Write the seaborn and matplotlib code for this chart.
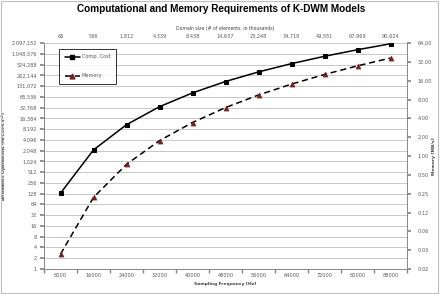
import numpy as np
import pandas as pd
import matplotlib
matplotlib.use("Agg")
import matplotlib.pyplot as plt
import seaborn as sns
from matplotlib.lines import Line2D
from matplotlib.patches import Rectangle

# ---- data ----
sampling_freq = ["8000", "16000", "24000", "32000", "40000", "48000",
                 "56000", "64000", "72000", "80000", "88000"]
domain_size = ["66", "536", "1,812", "4,339", "8,438", "14,637",
               "23,248", "34,718", "49,551", "67,969", "90,624"]
comp_cost = [132, 2144, 10870, 34710, 84380, 175640,
             325470, 555490, 891920, 1359380, 1993730]
memory = [0.027, 0.218, 0.736, 1.76, 3.43, 5.94,
          9.44, 14.1, 20.1, 27.6, 36.8]
left_ticks = [2 ** k for k in range(0, 22)]
right_ticks = [2.0 ** k for k in range(-6, 7)]

df = pd.DataFrame({"idx": np.arange(len(sampling_freq)),
                   "comp": comp_cost, "mem": memory})

sns.set_theme(style="white")
plt.rcParams["font.family"] = ["DejaVu Sans"]

fig = plt.figure(figsize=(4.42, 2.94), dpi=100)
ax = fig.add_axes([44 / 442, 1 - 269 / 294, 363 / 442, 226 / 294])
ax2 = ax.twinx()

tick_col = "#595959"
axis_col = "#868686"
mem_col = "#7a1f1f"
tfs = 3.6
lfs = 3.2

sns.lineplot(data=df, x="idx", y="comp", ax=ax, color="black", lw=1.1,
             marker="s", markersize=3.2, markeredgecolor="black", legend=False)
sns.lineplot(data=df, x="idx", y="mem", ax=ax2, color="black", lw=1.1,
             legend=False)
ax2.lines[0].set_dashes([4, 2.5])
sns.scatterplot(data=df, x="idx", y="mem", ax=ax2, marker="^", s=14,
                color=mem_col, edgecolor=mem_col, linewidth=0.3, legend=False, zorder=5)

# left axis
ax.set_yscale("log", base=2)
ax.set_ylim(1, 2 ** 21)
ax.set_yticks(left_ticks)
ax.set_yticklabels([f"{v:,}" for v in left_ticks])
ax.yaxis.set_minor_locator(matplotlib.ticker.NullLocator())
ax.grid(axis="y", color="#b0b0b0", lw=0.5)
ax.set_axisbelow(True)

# right axis
ax2.set_yscale("log", base=2)
ax2.set_ylim(2 ** -6, 2 ** 6)
ax2.set_yticks(right_ticks)
ax2.set_yticklabels([f"{v:.2f}" for v in right_ticks])
ax2.yaxis.set_minor_locator(matplotlib.ticker.NullLocator())

# x axis (categorical)
ax.set_xlim(-0.5, len(sampling_freq) - 0.5)
ax.set_xticks(np.arange(len(sampling_freq)))
ax.set_xticklabels(sampling_freq)
ax.set_xticks(np.arange(len(sampling_freq) + 1) - 0.5, minor=True)
ax.tick_params(axis="x", which="major", length=0, pad=3)
ax.tick_params(axis="x", which="minor", length=3, color=axis_col, direction="out")

for a in (ax, ax2):
    for s in a.spines.values():
        s.set_visible(False)
ax.spines["left"].set_visible(True)
ax.spines["bottom"].set_visible(True)
ax2.spines["right"].set_visible(True)
for s in (ax.spines["left"], ax.spines["bottom"], ax2.spines["right"]):
    s.set_color(axis_col)
    s.set_linewidth(0.7)

ax.tick_params(axis="y", which="major", length=3, color=axis_col, direction="out",
               labelsize=tfs, labelcolor=tick_col, pad=2, left=True)
ax2.tick_params(axis="y", which="major", length=3, color=axis_col, direction="out",
                labelsize=tfs, labelcolor=tick_col, pad=4.5, right=True)
ax.tick_params(axis="x", labelsize=tfs, labelcolor=tick_col, bottom=True, which="both")

ax.set_xlabel("Sampling Frequency [Hz]", fontsize=lfs, fontweight="bold",
              color="#404040", labelpad=3)
ax.set_ylabel("Arithmetic Operations (MFLOPs s$^{-1}$)", fontsize=lfs,
              fontweight="bold", color="#404040")
ax.yaxis.set_label_coords(-0.093, 0.5)
ax2.set_ylabel("Memory [MB/s]", fontsize=lfs, fontweight="bold",
               color="#404040")
ax2.yaxis.set_label_coords(1.069, 0.5)

# top axis with domain sizes
sec = ax.secondary_xaxis("top")
sec.set_xticks(np.arange(len(domain_size)))
sec.set_xticklabels(domain_size)
sec.tick_params(length=0, labelsize=tfs, labelcolor=tick_col, pad=3)
sec.spines["top"].set_visible(False)
sec.set_xlabel("Domain size (# of elements, in thousands)", fontsize=3.3,
               color="#404040", labelpad=3)

# legend
handles = [
    Line2D([], [], color="black", lw=1.1, marker="s", markersize=3.2),
    Line2D([], [], color="black", lw=1.1, dashes=[4, 2.5], marker="^",
           markersize=3.5, markerfacecolor=mem_col, markeredgecolor=mem_col),
]
leg = ax.legend(handles, ["Comp. Cost", "Memory"], loc="upper left",
                bbox_to_anchor=(0.035, 0.985), fontsize=tfs, frameon=True,
                fancybox=False, edgecolor="black", labelspacing=2.8,
                handlelength=3.0, borderpad=1.1, handletextpad=0.4)
leg.get_frame().set_linewidth(0.7)
for t in leg.get_texts():
    t.set_color(tick_col)

fig.suptitle("Computational and Memory Requirements of K-DWM Models",
             x=0.5, y=0.985, fontsize=7.2, fontweight="bold",
             family=["Liberation Sans", "DejaVu Sans"], color="black")

fig.patches.append(Rectangle((0.002, 0.003), 0.99, 0.994, transform=fig.transFigure,
                             fill=False, edgecolor="#bfbfbf", lw=0.8))

fig.savefig("out.png", dpi=100)
